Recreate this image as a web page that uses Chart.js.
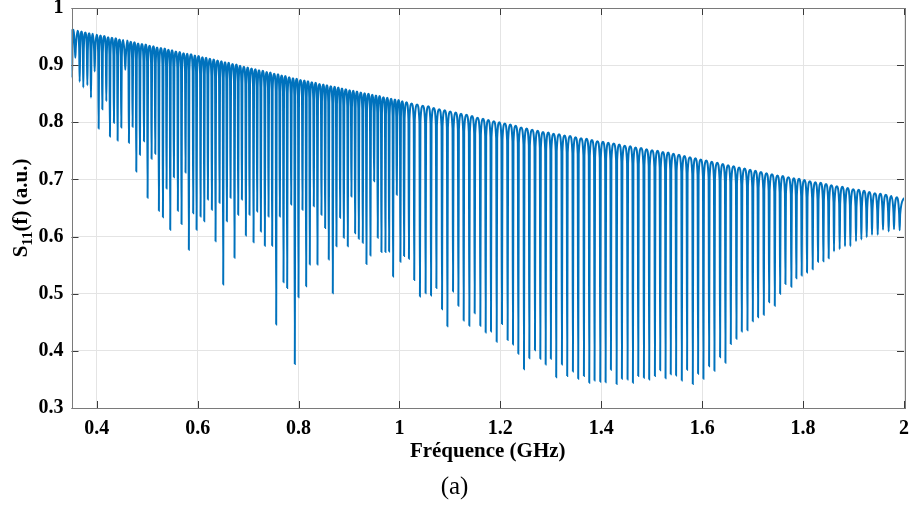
<!DOCTYPE html>
<html>
<head>
<meta charset="utf-8">
<script src="https://cdn.jsdelivr.net/npm/chart.js@4.4.1/dist/chart.umd.min.js"></script>
<style>
  html, body { margin: 0; padding: 0; background: #fff; }
  #wrap { width: 909px; height: 508px; }
</style>
</head>
<body>
<div id="wrap"><canvas id="s11Chart" width="909" height="508"></canvas></div>
<script>
// axis ticks
const xTicks = [0.4, 0.6, 0.8, 1, 1.2, 1.4, 1.6, 1.8, 2];
const xTickLabels = ["0.4", "0.6", "0.8", "1", "1.2", "1.4", "1.6", "1.8", "2"];
const yTicks = [0.3, 0.4, 0.5, 0.6, 0.7, 0.8, 0.9, 1];
const yTickLabels = ["0.3", "0.4", "0.5", "0.6", "0.7", "0.8", "0.9", "1"];

// resonance dips (GHz)
const dipFreq = [
  0.3510, 0.3576, 0.3662, 0.3734, 0.3814, 0.3886, 0.3959, 0.4038, 0.4111, 0.4190,
  0.4262, 0.4341, 0.4414, 0.4487, 0.4566, 0.4638, 0.4711, 0.4784, 0.4856, 0.4936,
  0.5008, 0.5087, 0.5160, 0.5232, 0.5312, 0.5384, 0.5457, 0.5529, 0.5608, 0.5681,
  0.5760, 0.5826,
  0.5912, 0.5979, 0.6058, 0.6131, 0.6203, 0.6282, 0.6355, 0.6434, 0.6507, 0.6579,
  0.6652, 0.6731, 0.6804, 0.6877, 0.6956, 0.7028, 0.7108, 0.7180, 0.7253, 0.7332,
  0.7405, 0.7477, 0.7557, 0.7629, 0.7702, 0.7775, 0.7854, 0.7926, 0.7999, 0.8078,
  0.8151,
  0.8223, 0.8302, 0.8375, 0.8454, 0.8527, 0.8599, 0.8679, 0.8751, 0.8824, 0.8897,
  0.8976, 0.9048, 0.9121, 0.9194, 0.9273, 0.9346, 0.9425, 0.9498, 0.9570, 0.9643,
  0.9722, 0.9795, 0.9874, 0.9947, 1.0019, 1.0092, 1.0188, 1.0293, 1.0406, 1.0518,
  1.0626, 1.0732, 1.0844, 1.0950, 1.1062, 1.1168, 1.1273, 1.1385, 1.1491, 1.1603,
  1.1709, 1.1814, 1.1927, 1.2032, 1.2144, 1.2250, 1.2356, 1.2468, 1.2574, 1.2686,
  1.2792, 1.2898,
  1.3001, 1.3107, 1.3220, 1.3325, 1.3438, 1.3543, 1.3656, 1.3762, 1.3867, 1.3980,
  1.4086, 1.4191, 1.4304, 1.4409, 1.4521, 1.4627, 1.4733, 1.4845, 1.4950, 1.5063,
  1.5168, 1.5274,
  1.5377, 1.5483, 1.5596, 1.5701, 1.5814, 1.5919, 1.6025, 1.6137, 1.6243, 1.6355,
  1.6461, 1.6567, 1.6679, 1.6785, 1.6897, 1.7003, 1.7108, 1.7221, 1.7327, 1.7439,
  1.7545, 1.7650,
  1.7767, 1.7866, 1.7972, 1.8078, 1.8190, 1.8296, 1.8402, 1.8507, 1.8613, 1.8725,
  1.8831, 1.8937, 1.9049, 1.9155, 1.9261, 1.9366, 1.9479, 1.9584, 1.9696, 1.9802,
  1.9914
];

// S11 at the bottom of each dip
const dipMin = [
  0.878, 0.913, 0.871, 0.861, 0.865, 0.843, 0.889, 0.789, 0.823, 0.837,
  0.775, 0.799, 0.768, 0.791, 0.892, 0.764, 0.792, 0.714, 0.743, 0.767,
  0.668, 0.736, 0.745, 0.645, 0.634, 0.684, 0.612, 0.704, 0.645, 0.622,
  0.712, 0.577,
  0.641, 0.612, 0.635, 0.627, 0.665, 0.647, 0.592, 0.659, 0.516, 0.627,
  0.668, 0.563, 0.638, 0.665, 0.602, 0.638, 0.590, 0.644, 0.609, 0.584,
  0.635, 0.584, 0.446, 0.635, 0.520, 0.510, 0.656, 0.377, 0.494, 0.647,
  0.513,
  0.551, 0.653, 0.551, 0.638, 0.615, 0.560, 0.501, 0.583, 0.633, 0.598,
  0.583, 0.670, 0.606, 0.596, 0.589, 0.552, 0.567, 0.697, 0.598, 0.573,
  0.573, 0.574, 0.530, 0.673, 0.556, 0.566, 0.561, 0.524, 0.495, 0.501,
  0.497, 0.510, 0.473, 0.443, 0.504, 0.479, 0.453, 0.444, 0.466, 0.444,
  0.432, 0.434, 0.416, 0.447, 0.419, 0.411, 0.395, 0.368, 0.387, 0.401,
  0.386, 0.376,
  0.386, 0.354, 0.376, 0.356, 0.364, 0.351, 0.356, 0.344, 0.348, 0.346,
  0.345, 0.367, 0.342, 0.351, 0.350, 0.344, 0.356, 0.353, 0.350, 0.356,
  0.366, 0.352,
  0.359, 0.357, 0.348, 0.367, 0.342, 0.360, 0.351, 0.373, 0.365, 0.389,
  0.379, 0.412, 0.421, 0.434, 0.436, 0.452, 0.459, 0.463, 0.485, 0.479,
  0.500, 0.517,
  0.512, 0.527, 0.532, 0.537, 0.543, 0.556, 0.557, 0.562, 0.574, 0.578,
  0.583, 0.583, 0.592, 0.595, 0.599, 0.603, 0.603, 0.612, 0.609, 0.613,
  0.611
];

// S11 at the rounded peak just before each dip (upper envelope)
const peakVal = [
  0.963, 0.962, 0.960, 0.959, 0.957, 0.956, 0.955, 0.953, 0.952, 0.951,
  0.949, 0.948, 0.947, 0.945, 0.944, 0.943, 0.941, 0.940, 0.938, 0.937,
  0.936, 0.934, 0.933, 0.931, 0.930, 0.929, 0.927, 0.926, 0.924, 0.923,
  0.921, 0.920,
  0.919, 0.917, 0.916, 0.914, 0.913, 0.911, 0.910, 0.908, 0.907, 0.905,
  0.904, 0.902, 0.901, 0.899, 0.897, 0.896, 0.894, 0.893, 0.891, 0.890,
  0.888, 0.887, 0.885, 0.884, 0.882, 0.881, 0.879, 0.877, 0.876, 0.874,
  0.873,
  0.872, 0.870, 0.869, 0.867, 0.866, 0.865, 0.863, 0.862, 0.861, 0.859,
  0.858, 0.856, 0.855, 0.854, 0.852, 0.851, 0.850, 0.848, 0.847, 0.846,
  0.844, 0.843, 0.841, 0.840, 0.839, 0.837, 0.835, 0.833, 0.831, 0.829,
  0.828, 0.825, 0.823, 0.821, 0.819, 0.817, 0.815, 0.813, 0.811, 0.808,
  0.806, 0.804, 0.802, 0.800, 0.798, 0.796, 0.794, 0.791, 0.789, 0.787,
  0.785, 0.783,
  0.782, 0.780, 0.779, 0.777, 0.776, 0.774, 0.772, 0.771, 0.769, 0.767,
  0.766, 0.764, 0.763, 0.761, 0.759, 0.758, 0.756, 0.755, 0.753, 0.751,
  0.750, 0.748,
  0.747, 0.745, 0.743, 0.741, 0.739, 0.737, 0.735, 0.733, 0.731, 0.729,
  0.727, 0.725, 0.723, 0.721, 0.719, 0.717, 0.715, 0.713, 0.711, 0.709,
  0.707, 0.706,
  0.704, 0.702, 0.701, 0.699, 0.697, 0.695, 0.694, 0.692, 0.690, 0.688,
  0.687, 0.685, 0.683, 0.682, 0.680, 0.678, 0.676, 0.675, 0.673, 0.671,
  0.669
];

const freqStart = 0.35;
const freqEnd = 2;
const endValue = 0.668;
const bandDepth = 0.03;      // depth of the scalloped band under the envelope
const notchHalf = 0.001;     // half width of a dip, GHz

if (dipFreq.length !== dipMin.length || dipFreq.length !== peakVal.length) {
  console.warn("array length mismatch", dipFreq.length, dipMin.length, peakVal.length);
}

// build the trace: peak -> shoulder -> dip bottom -> shoulder, for each dip
const curve = [];
dipFreq.forEach((f, i) => {
  const peakX = i === 0 ? freqStart : (dipFreq[i - 1] + f) / 2;
  curve.push({ x: peakX, y: peakVal[i] });
  curve.push({ x: Math.max(peakX + 0.0002, f - notchHalf), y: peakVal[i] - bandDepth });
  curve.push({ x: f, y: dipMin[i] });
  curve.push({ x: f + notchHalf, y: peakVal[i] - bandDepth });
});
curve.push({ x: freqEnd, y: endValue });

const serif = "'Liberation Serif', 'Times New Roman', serif";

// box, inner ticks and axis titles (MATLAB look)
const framePlugin = {
  id: "frame",
  afterDatasetsDraw(chart) {
    const { ctx, chartArea: a, scales } = chart;
    ctx.save();
    ctx.strokeStyle = "#3a3a3a";
    ctx.lineWidth = 1;
    ctx.beginPath();
    xTicks.forEach((v) => {
      const px = Math.round(scales.x.getPixelForValue(v)) + 0.5;
      ctx.moveTo(px, a.bottom); ctx.lineTo(px, a.bottom - 7);
      ctx.moveTo(px, a.top); ctx.lineTo(px, a.top + 7);
    });
    yTicks.forEach((v) => {
      const py = Math.round(scales.y.getPixelForValue(v)) + 0.5;
      ctx.moveTo(a.left, py); ctx.lineTo(a.left + 7, py);
      ctx.moveTo(a.right, py); ctx.lineTo(a.right - 7, py);
    });
    ctx.stroke();
    ctx.strokeStyle = "#7a7a7a";
    ctx.strokeRect(Math.round(a.left) + 0.5, Math.round(a.top) + 0.5,
      Math.round(a.right - a.left), Math.round(a.bottom - a.top));
    ctx.restore();
  },
  afterDraw(chart) {
    const { ctx, chartArea: a } = chart;
    ctx.save();
    ctx.fillStyle = "#000";
    ctx.textBaseline = "middle";

    // x title
    ctx.font = "bold 21px " + serif;
    ctx.textAlign = "center";
    ctx.fillText("Fréquence (GHz)", (a.left + a.right) / 2, 452);

    // caption
    ctx.font = "25px " + serif;
    ctx.fillText("(a)", chart.width / 2, 487);

    // y title with subscript, rotated
    ctx.translate(20, (a.top + a.bottom) / 2);
    ctx.rotate(-Math.PI / 2);
    ctx.textAlign = "left";
    ctx.textBaseline = "alphabetic";
    const big = "bold 21px " + serif;
    const small = "bold 15px " + serif;
    ctx.font = big; const wS = ctx.measureText("S").width;
    ctx.font = small; const wSub = ctx.measureText("11").width;
    ctx.font = big; const wRest = ctx.measureText("(f) (a.u.)").width;
    let x0 = -(wS + wSub + wRest) / 2;
    const base = 7;
    ctx.font = big; ctx.fillText("S", x0, base); x0 += wS;
    ctx.font = small; ctx.fillText("11", x0, base + 5); x0 += wSub;
    ctx.font = big; ctx.fillText("(f) (a.u.)", x0, base);
    ctx.restore();
  }
};

const ctx = document.getElementById("s11Chart").getContext("2d");
new Chart(ctx, {
  type: "line",
  data: {
    datasets: [{
      data: curve,
      borderColor: "#0072BD",
      borderWidth: 2,
      pointRadius: 0,
      fill: false,
      cubicInterpolationMode: "monotone"
    }]
  },
  options: {
    responsive: false,
    animation: false,
    layout: { padding: { top: 8, right: 5, left: 0, bottom: 0 } },
    plugins: { legend: { display: false }, tooltip: { enabled: false } },
    scales: {
      x: {
        type: "linear",
        min: freqStart,
        max: freqEnd,
        afterBuildTicks: (scale) => { scale.ticks = xTicks.map((v) => ({ value: v })); },
        afterFit: (scale) => {
          scale.height = 100;
          scale.paddingLeft = 0;
          scale.paddingRight = 0;
        },
        grid: { color: "#e4e4e4", lineWidth: 1, drawTicks: false },
        border: { display: false },
        ticks: {
          autoSkip: false,
          maxRotation: 0,
          padding: 9,
          color: "#000",
          font: { family: serif, weight: "bold", size: 20 },
          callback: (v, i) => xTickLabels[i]
        }
      },
      y: {
        type: "linear",
        min: 0.3,
        max: 1,
        afterBuildTicks: (scale) => { scale.ticks = yTicks.map((v) => ({ value: v })); },
        afterFit: (scale) => {
          scale.width = 71.5;
          scale.paddingTop = 0;
          scale.paddingBottom = 0;
        },
        grid: { color: "#e4e4e4", lineWidth: 1, drawTicks: false },
        border: { display: false },
        ticks: {
          autoSkip: false,
          padding: 8,
          color: "#000",
          font: { family: serif, weight: "bold", size: 20 },
          callback: (v, i) => yTickLabels[i]
        }
      }
    }
  },
  plugins: [framePlugin]
});
</script>
</body>
</html>
